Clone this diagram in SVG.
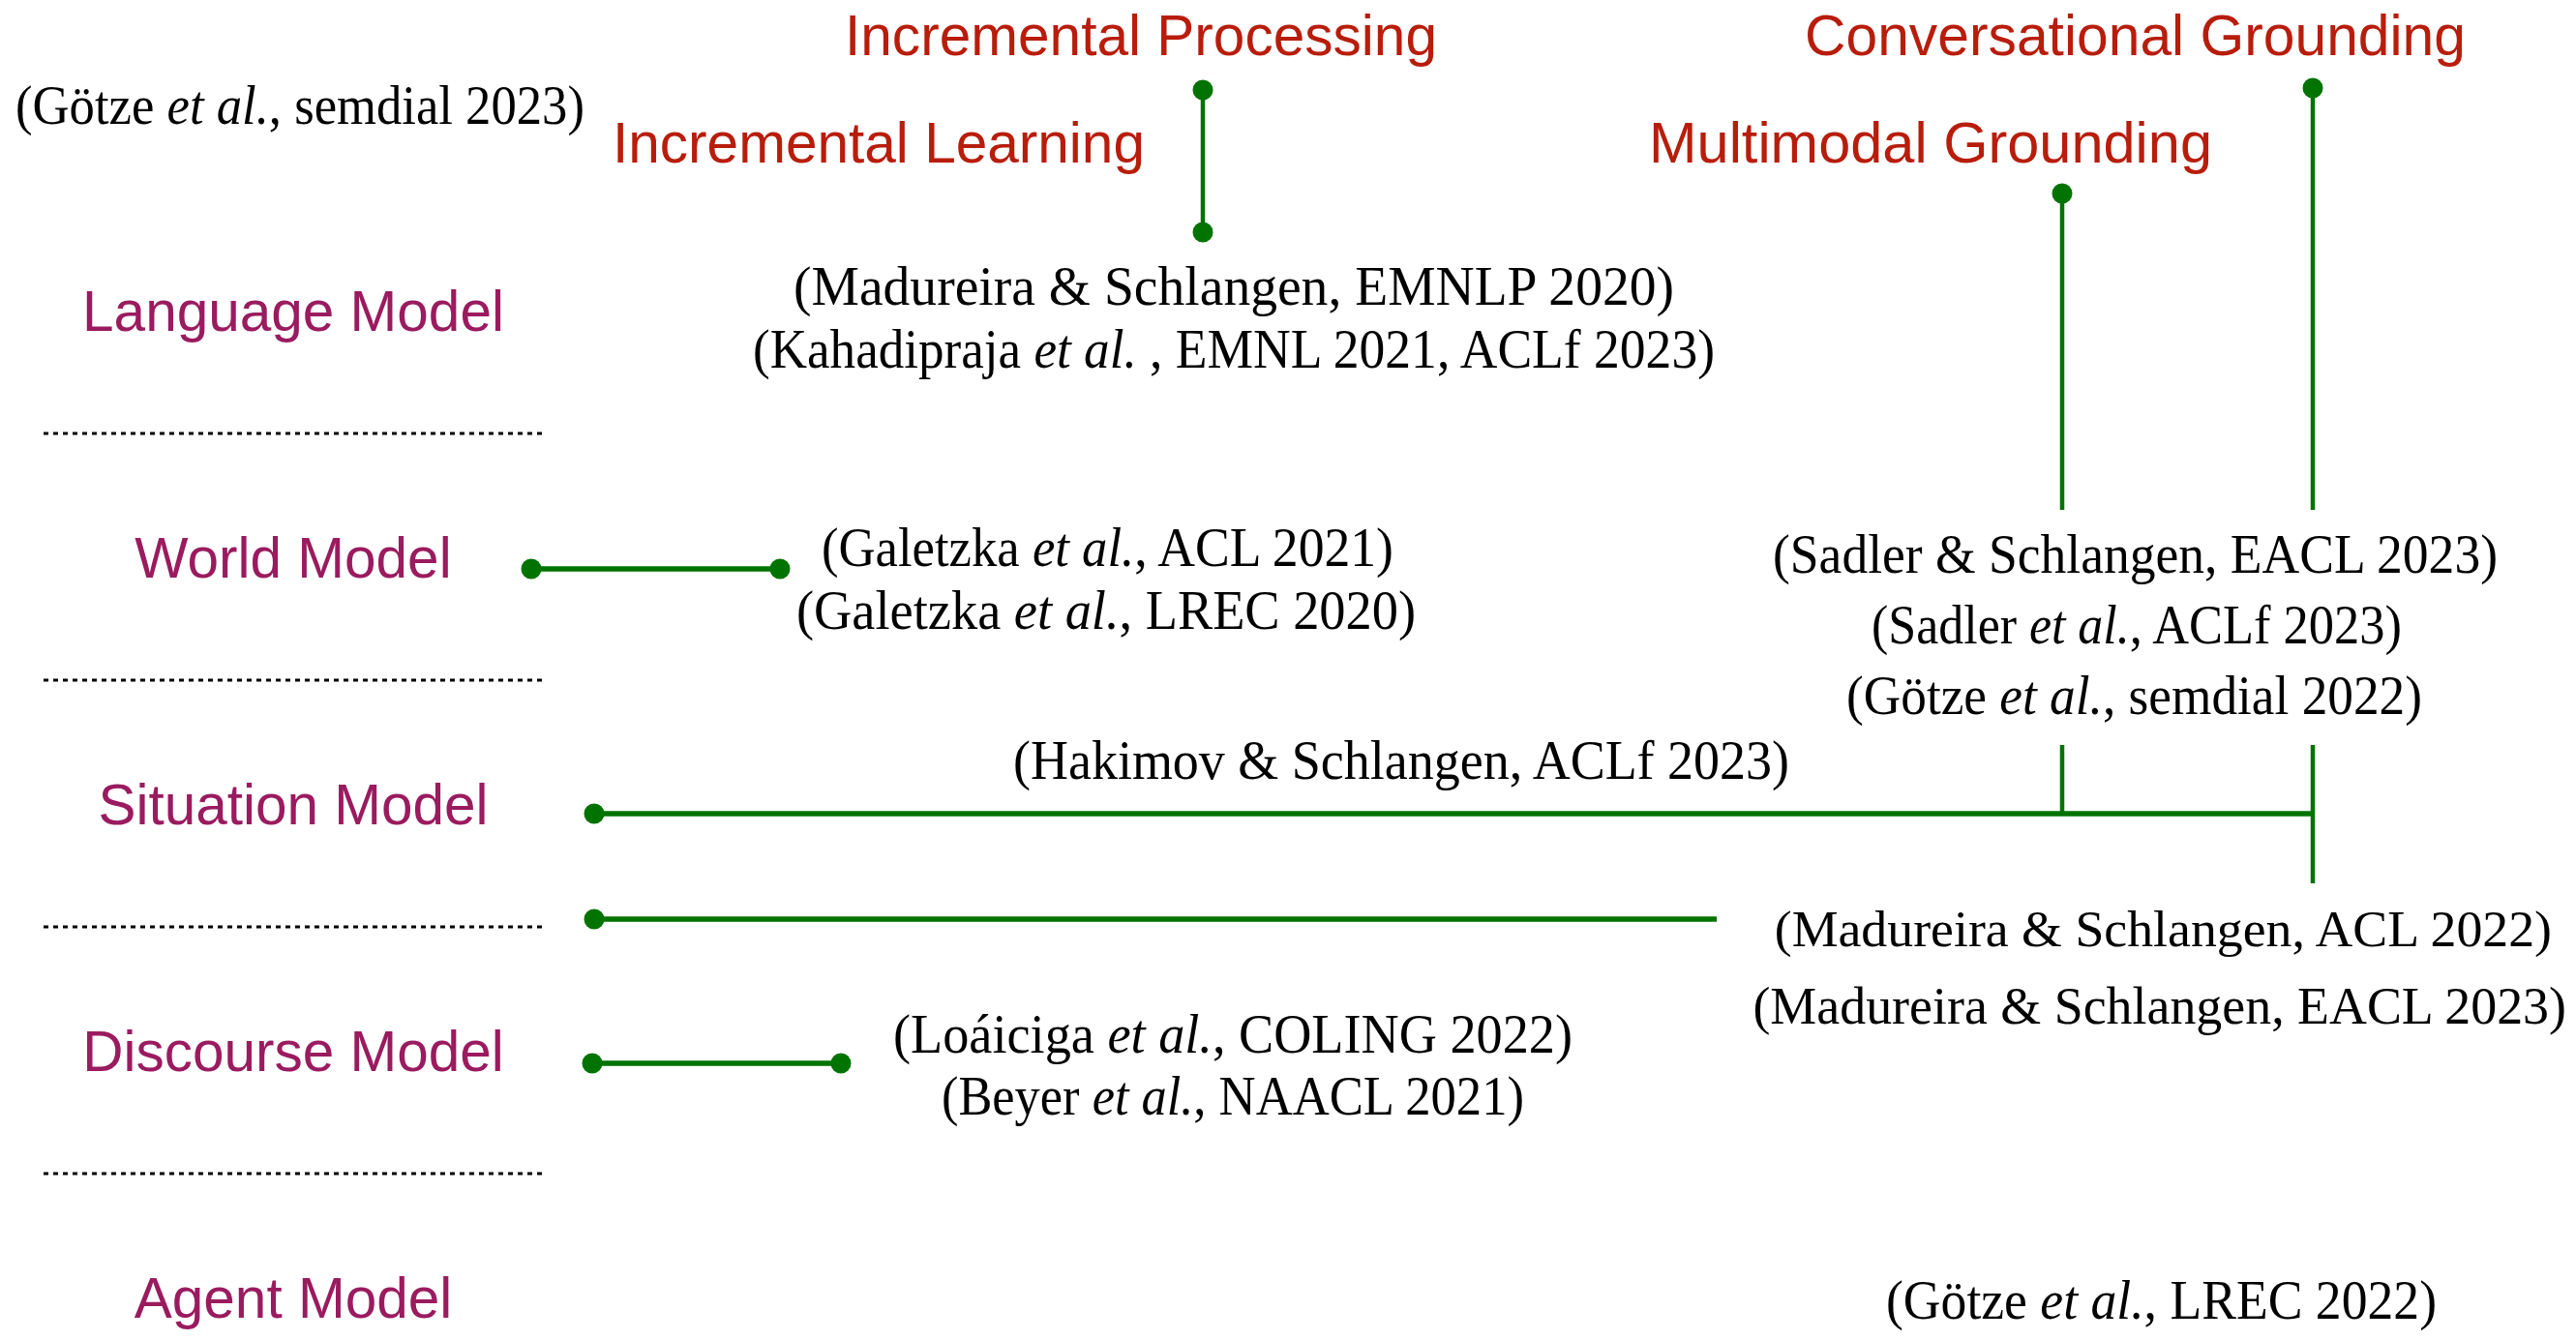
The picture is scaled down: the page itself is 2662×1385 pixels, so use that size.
<svg xmlns="http://www.w3.org/2000/svg" width="2662" height="1385" viewBox="0 0 2662 1385">
  <style>
    .layer { font-family: "Liberation Sans", Arial, sans-serif; font-size: 58.5px; fill: #9a1b5f; text-anchor: middle; }
    .topic { font-family: "Liberation Sans", Arial, sans-serif; font-size: 58.5px; fill: #b81d0c; }
    .cite { font-family: "Liberation Serif", "Times New Roman", serif; font-size: 57px; fill: #000; }
    .it { font-style: italic; text-anchor: middle; }
    .e { text-anchor: end; }
    .sep { stroke: #000; stroke-width: 3; stroke-dasharray: 5 5; fill: none; }
    .link { stroke: #007300; fill: none; }
    .thin { stroke-width: 4.5; }
    .thick { stroke-width: 5.5; }
  </style>
  <defs>
    <marker id="dot" markerUnits="userSpaceOnUse" markerWidth="24" markerHeight="24" refX="12" refY="12" viewBox="0 0 24 24">
      <circle cx="12" cy="12" r="10.5" fill="#007300"/>
    </marker>
  </defs>

  <rect width="2662" height="1385" fill="#fff"/>

  <!-- layer separators -->
  <g id="separators">
    <line class="sep" x1="45" y1="448" x2="562" y2="448"/>
    <line class="sep" x1="45" y1="703" x2="562" y2="703"/>
    <line class="sep" x1="45" y1="958" x2="562" y2="958"/>
    <line class="sep" x1="45" y1="1213" x2="562" y2="1213"/>
  </g>

  <!-- model layers -->
  <g id="language-model"><text class="layer" x="303" y="342">Language Model</text></g>
  <g id="world-model"><text class="layer" x="303" y="597">World Model</text></g>
  <g id="situation-model"><text class="layer" x="303" y="852">Situation Model</text></g>
  <g id="discourse-model"><text class="layer" x="303" y="1107">Discourse Model</text></g>
  <g id="agent-model"><text class="layer" x="303" y="1362">Agent Model</text></g>

  <!-- research topics -->
  <g id="incremental-processing"><text class="topic" x="873" y="57" textLength="612" lengthAdjust="spacingAndGlyphs">Incremental Processing</text></g>
  <g id="incremental-learning"><text class="topic" x="633" y="168" textLength="550" lengthAdjust="spacingAndGlyphs">Incremental Learning</text></g>
  <g id="conversational-grounding"><text class="topic" x="1865" y="57" textLength="683" lengthAdjust="spacingAndGlyphs">Conversational Grounding</text></g>
  <g id="multimodal-grounding"><text class="topic" x="1704" y="168" textLength="582" lengthAdjust="spacingAndGlyphs">Multimodal Grounding</text></g>

  <!-- publications: author / italic "et al." / venue set as separate runs -->
  <g id="pub-goetze-semdial-2023">
    <text class="cite e" x="159.3" y="128" textLength="143.3" lengthAdjust="spacingAndGlyphs">(Götze</text>
    <text class="cite it" x="225.2" y="128" textLength="105.3" lengthAdjust="spacingAndGlyphs">et al.</text>
    <text class="cite" x="277.8" y="128" textLength="326.2" lengthAdjust="spacingAndGlyphs">, semdial 2023)</text>
  </g>
  <g id="pub-madureira-emnlp-2020">
    <text class="cite" x="820" y="315" textLength="910" lengthAdjust="spacingAndGlyphs">(Madureira &amp; Schlangen, EMNLP 2020)</text>
  </g>
  <g id="pub-kahadipraja">
    <text class="cite e" x="1055.2" y="380" textLength="277.2" lengthAdjust="spacingAndGlyphs">(Kahadipraja</text>
    <text class="cite it" x="1121.6" y="380" textLength="106.2" lengthAdjust="spacingAndGlyphs">et al.</text>
    <text class="cite" x="1187.9" y="380" textLength="584.1" lengthAdjust="spacingAndGlyphs">, EMNL 2021, ACLf 2023)</text>
  </g>
  <g id="pub-galetzka-acl-2021">
    <text class="cite e" x="1053.7" y="585" textLength="204.7" lengthAdjust="spacingAndGlyphs">(Galetzka</text>
    <text class="cite it" x="1119.6" y="585" textLength="105.3" lengthAdjust="spacingAndGlyphs">et al.</text>
    <text class="cite" x="1172.3" y="585" textLength="267.7" lengthAdjust="spacingAndGlyphs">, ACL 2021)</text>
  </g>
  <g id="pub-galetzka-lrec-2020">
    <text class="cite e" x="1034.3" y="650" textLength="211.3" lengthAdjust="spacingAndGlyphs">(Galetzka</text>
    <text class="cite it" x="1102.2" y="650" textLength="108.7" lengthAdjust="spacingAndGlyphs">et al.</text>
    <text class="cite" x="1156.5" y="650" textLength="306.5" lengthAdjust="spacingAndGlyphs">, LREC 2020)</text>
  </g>
  <g id="pub-sadler-eacl-2023">
    <text class="cite e" x="2581" y="592" textLength="749" lengthAdjust="spacingAndGlyphs">(Sadler &amp; Schlangen, EACL 2023)</text>
  </g>
  <g id="pub-sadler-aclf-2023">
    <text class="cite e" x="2084" y="665" textLength="150" lengthAdjust="spacingAndGlyphs">(Sadler</text>
    <text class="cite it" x="2148.8" y="665" textLength="103.8" lengthAdjust="spacingAndGlyphs">et al.</text>
    <text class="cite" x="2200.8" y="665" textLength="281.2" lengthAdjust="spacingAndGlyphs">, ACLf 2023)</text>
  </g>
  <g id="pub-goetze-semdial-2022">
    <text class="cite e" x="2053" y="738" textLength="145" lengthAdjust="spacingAndGlyphs">(Götze</text>
    <text class="cite it" x="2119.6" y="738" textLength="106.6" lengthAdjust="spacingAndGlyphs">et al.</text>
    <text class="cite" x="2172.9" y="738" textLength="330.1" lengthAdjust="spacingAndGlyphs">, semdial 2022)</text>
  </g>
  <g id="pub-hakimov-aclf-2023">
    <text class="cite" x="1047" y="805" textLength="802" lengthAdjust="spacingAndGlyphs">(Hakimov &amp; Schlangen, ACLf 2023)</text>
  </g>
  <g id="pub-madureira-acl-2022">
    <text class="cite e" x="2637" y="978" style="font-size:53.8px">(Madureira &amp; Schlangen, ACL 2022)</text>
  </g>
  <g id="pub-madureira-eacl-2023">
    <text class="cite e" x="2652" y="1058" style="font-size:53.9px">(Madureira &amp; Schlangen, EACL 2023)</text>
  </g>
  <g id="pub-loaiciga-coling-2022">
    <text class="cite e" x="1130.9" y="1088" textLength="207.9" lengthAdjust="spacingAndGlyphs">(Loáiciga</text>
    <text class="cite it" x="1198.7" y="1088" textLength="108.5" lengthAdjust="spacingAndGlyphs">et al.</text>
    <text class="cite" x="1252.9" y="1088" textLength="372.1" lengthAdjust="spacingAndGlyphs">, COLING 2022)</text>
  </g>
  <g id="pub-beyer-naacl-2021">
    <text class="cite e" x="1115.5" y="1152" textLength="142.5" lengthAdjust="spacingAndGlyphs">(Beyer</text>
    <text class="cite it" x="1181" y="1152" textLength="104.7" lengthAdjust="spacingAndGlyphs">et al.</text>
    <text class="cite" x="1233.3" y="1152" textLength="341.7" lengthAdjust="spacingAndGlyphs">, NAACL 2021)</text>
  </g>
  <g id="pub-goetze-lrec-2022">
    <text class="cite e" x="2094.9" y="1363" textLength="145.9" lengthAdjust="spacingAndGlyphs">(Götze</text>
    <text class="cite it" x="2162" y="1363" textLength="107.3" lengthAdjust="spacingAndGlyphs">et al.</text>
    <text class="cite" x="2215.6" y="1363" textLength="302.4" lengthAdjust="spacingAndGlyphs">, LREC 2022)</text>
  </g>

  <!-- connectors -->
  <g id="connectors">
    <!-- incremental processing / learning -->
    <line class="link thin" x1="1243" y1="93" x2="1243" y2="240" marker-start="url(#dot)" marker-end="url(#dot)"/>
    <!-- world model span -->
    <line class="link thick" x1="549" y1="588" x2="806" y2="588" marker-start="url(#dot)" marker-end="url(#dot)"/>
    <!-- multimodal grounding -->
    <line class="link thin" x1="2131" y1="200" x2="2131" y2="527" marker-start="url(#dot)"/>
    <line class="link thin" x1="2131" y1="770" x2="2131" y2="840"/>
    <!-- conversational grounding -->
    <line class="link thin" x1="2390" y1="91" x2="2390" y2="527" marker-start="url(#dot)"/>
    <line class="link thin" x1="2390" y1="770" x2="2390" y2="913"/>
    <!-- situation model span -->
    <line class="link thick" x1="614" y1="841" x2="2131" y2="841" marker-start="url(#dot)"/>
    <line class="link thick" x1="2131" y1="841" x2="2390" y2="841"/>
    <!-- situation / discourse boundary span -->
    <line class="link thick" x1="614" y1="950" x2="1774" y2="950" marker-start="url(#dot)"/>
    <!-- discourse model span -->
    <line class="link thick" x1="612" y1="1099" x2="869" y2="1099" marker-start="url(#dot)" marker-end="url(#dot)"/>
  </g>
</svg>
